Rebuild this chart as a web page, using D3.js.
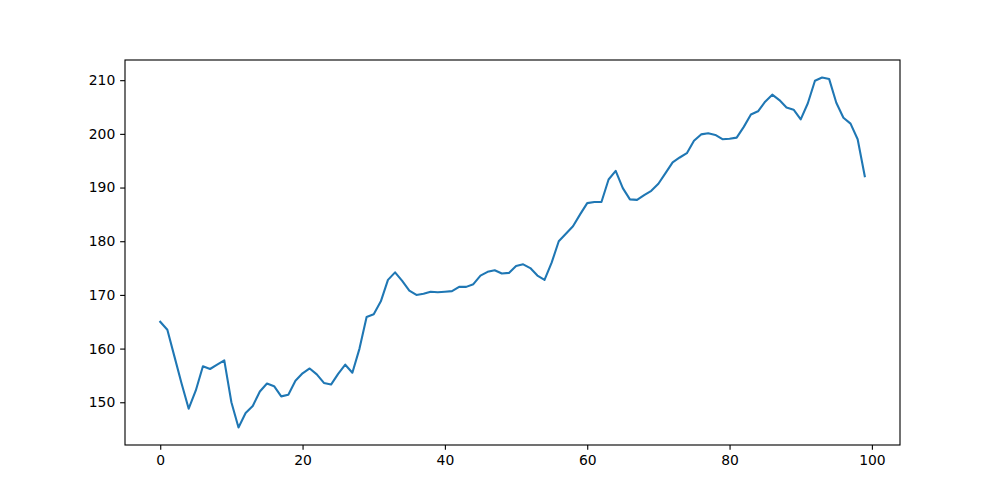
<!DOCTYPE html>
<html><head><meta charset="utf-8">
<script src="https://cdn.jsdelivr.net/npm/d3@7"></script>
<style>body{margin:0;background:#fff}svg{display:block}text{font-family:"DejaVu Sans",sans-serif}</style>
</head><body><svg id="c" width="1000" height="500"></svg>
<script>
const values = [165.0,163.5,158.5,153.5,148.8,152.2,156.7,156.2,157.0,157.8,
150.0,145.3,148.0,149.3,152.0,153.5,153.0,151.1,151.4,154.0,
155.4,156.3,155.2,153.6,153.3,155.3,157.0,155.5,160.0,165.9,
166.4,168.8,172.8,174.2,172.6,170.8,170.0,170.2,170.6,170.5,
170.6,170.7,171.5,171.5,172.0,173.6,174.3,174.6,174.0,174.1,
175.4,175.7,175.0,173.6,172.8,176.0,180.0,181.4,182.8,185.0,
187.1,187.3,187.3,191.5,193.1,189.9,187.8,187.7,188.6,189.4,
190.7,192.7,194.7,195.6,196.4,198.7,199.9,200.1,199.8,199.0,
199.1,199.3,201.3,203.6,204.2,206.0,207.3,206.3,204.9,204.5,
202.7,205.7,209.9,210.5,210.2,205.8,203.0,201.9,199.0,192.1];
const xTicks = [0,20,40,60,80,100];
const yTicks = [150,160,170,180,190,200,210];

const L=125,R=900,T=60,B=445;
const svg=d3.select("#c");
const n=values.length;
const xm=(n-1)*0.05;
const x=d3.scaleLinear().domain([-xm,n-1+xm]).range([L,R]);
const ymin=d3.min(values), ymax=d3.max(values), ym=(ymax-ymin)*0.05;
const y=d3.scaleLinear().domain([ymin-ym,ymax+ym]).range([B,T]);

svg.append("path").datum(values)
 .attr("fill","none").attr("stroke","#1f77b4").attr("stroke-width",2.08)
 .attr("stroke-linejoin","round").attr("stroke-linecap","square")
 .attr("d",d3.line().x((d,i)=>x(i)).y(d=>y(d)));

const xa=svg.append("g").attr("transform",`translate(0,${B})`)
 .call(d3.axisBottom(x).tickValues(xTicks).tickSize(4.86).tickPadding(4.86).tickFormat(d3.format("d")));
const ya=svg.append("g").attr("transform",`translate(${L},0)`)
 .call(d3.axisLeft(y).tickValues(yTicks).tickSize(4.86).tickPadding(4.86).tickFormat(d3.format("d")));
[xa,ya].forEach(a=>{a.select(".domain").remove();a.selectAll("text").attr("font-size","13.9px").attr("fill","#000").attr("font-family","DejaVu Sans");a.selectAll("line").attr("stroke","#000").attr("stroke-width",1.11);});
svg.append("rect").attr("x",L).attr("y",T).attr("width",R-L).attr("height",B-T)
 .attr("fill","none").attr("stroke","#000").attr("stroke-width",1.11);
</script></body></html>
